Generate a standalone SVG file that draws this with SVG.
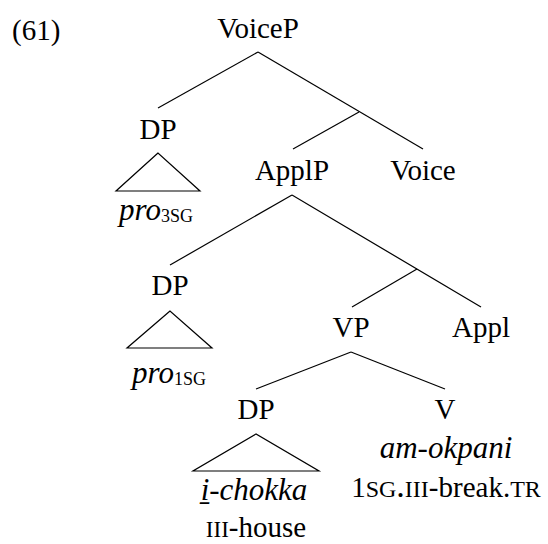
<svg xmlns="http://www.w3.org/2000/svg" width="548" height="544" viewBox="0 0 548 544">
<style>
text{font-family:"Liberation Serif","Times New Roman",serif;font-size:29px;fill:#000;text-anchor:middle}
.it{font-style:italic;font-size:31px}
.sc{font-variant:small-caps;font-size:34px}
.sc2{font-variant:small-caps;font-size:33px}
.sub{font-size:18px;font-style:normal}
line,polygon{stroke:#000;stroke-width:1.2;fill:none}
</style>
<rect width="548" height="544" fill="#fff"/>
<text x="12" y="40" style="text-anchor:start">(61)</text>
<g id="connectors">
<line x1="258" y1="52" x2="158" y2="108"/>
<line x1="258" y1="52" x2="423" y2="149"/>
<line x1="359" y1="112" x2="293" y2="149"/>
<line x1="292" y1="195" x2="170" y2="265"/>
<line x1="292" y1="195" x2="481" y2="307"/>
<line x1="417" y1="269" x2="352" y2="307"/>
<line x1="351" y1="352" x2="256" y2="389"/>
<line x1="351" y1="352" x2="445" y2="389"/>
</g>
<g id="n-voicep"><text x="258" y="38">VoiceP</text></g>
<g id="n-dp1"><text x="158" y="139">DP</text>
<polygon points="158,153 116,191 200,191"/>
<text x="156" y="220" class="it">pro<tspan class="sub" dy="2">3SG</tspan></text></g>
<g id="n-applp"><text x="292" y="180">ApplP</text></g>
<g id="n-voice"><text x="423" y="180">Voice</text></g>
<g id="n-dp2"><text x="170" y="295">DP</text>
<polygon points="170,311 127,348 212,348"/>
<text x="169" y="383" class="it">pro<tspan class="sub" dy="2">1SG</tspan></text></g>
<g id="n-vp"><text x="351" y="337">VP</text></g>
<g id="n-appl"><text x="481" y="337">Appl</text></g>
<g id="n-dp3"><text x="256" y="419">DP</text>
<polygon points="256,434 193,471 319,471"/>
<text x="254" y="500" class="it">i&#x331;-chokka</text>
<text x="256" y="537"><tspan class="sc2">iii</tspan>-house</text></g>
<g id="n-v"><text x="445" y="419">V</text>
<text x="446" y="458" class="it">am-okpani</text>
<text x="446" y="497">1<tspan class="sc">sg.iii</tspan>-break.<tspan class="sc">tr</tspan></text></g>
</svg>
